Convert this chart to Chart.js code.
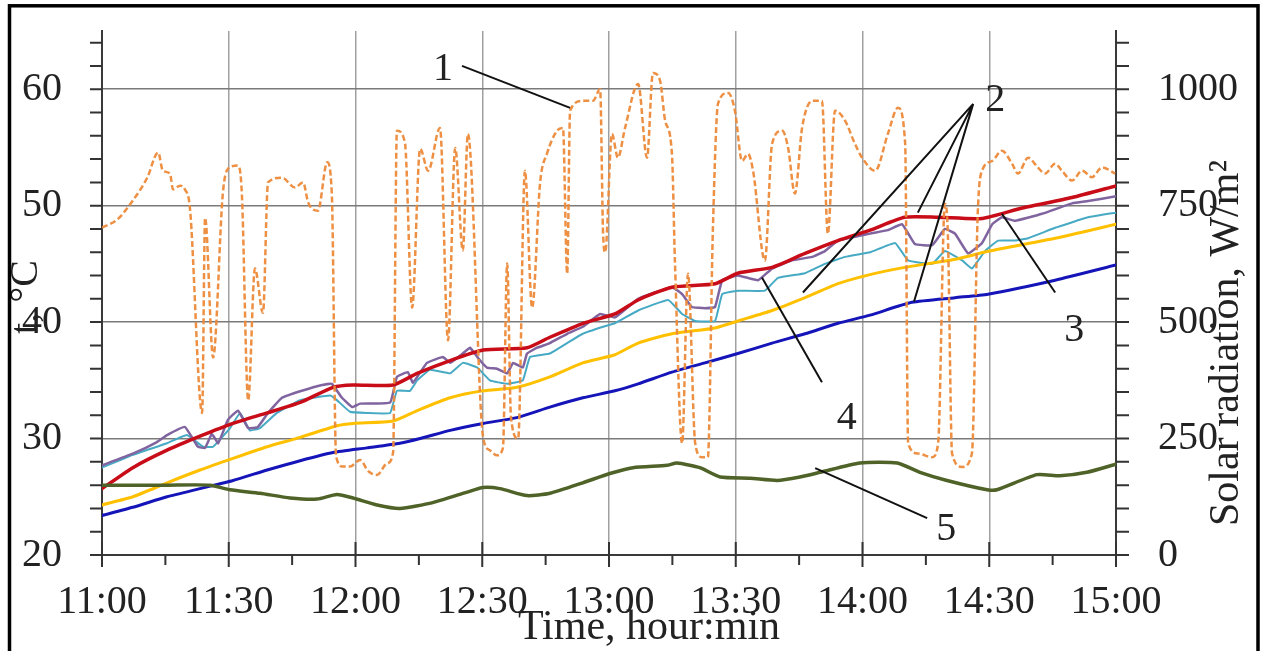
<!DOCTYPE html>
<html>
<head>
<meta charset="utf-8">
<script src="https://cdn.jsdelivr.net/npm/chart.js@4/dist/chart.umd.min.js"></script>
<style>
  html, body { margin: 0; padding: 0; background: #fff; }
  canvas { display: block; }
</style>
</head>
<body>
<canvas id="grafico" width="1262" height="651"></canvas>
<script>
// minutes after 11:00 for the time axis
var timeTicks = [0, 30, 60, 90, 120, 150, 180, 210, 240];
var tempTicks = [20, 30, 40, 50, 60];
var solarTicks = [0, 250, 500, 750, 1000];

// 1 - solar radiation, W/m2 (right axis)
var solarMin = [0, 3.6, 7.3, 10.7, 13.3, 14.4, 16.1, 16.8, 18.5, 19.6, 20.8, 23.7, 24.4, 26.3, 28.6, 29.8, 32.2, 33.1, 34.6,
  36.2, 38.1, 39.3, 42.6, 45.7, 47.6, 48.8, 51.1, 53.3, 54.4, 55.4, 57.0, 58.7, 61.1, 63.0, 65.1, 67.5, 68.9,
  69.8, 71.7, 73.4, 75.3, 77.2, 80.0, 81.9, 83.6, 85.4, 86.6, 90.2, 91.8, 93.5, 94.9, 95.9, 96.8, 98.5, 100.1,
  101.8, 103.7, 105.3, 107.7, 109.1, 110.1, 110.8, 113.8, 116.2, 117.9, 118.6, 119.1, 120.7, 122.1, 123.8,
  126.9, 129.0, 130.4, 132.1, 133.3, 134.9, 135.6, 137.3, 138.7, 140.4, 142.0, 143.4, 144.6, 145.8, 148.2,
  149.8, 151.5, 152.9, 154.1, 156.9, 158.6, 161.0, 162.4, 164.0, 165.7, 168.1, 170.4, 171.8, 173.5, 175.9,
  178.2, 179.9, 183.0, 186.0, 188.4, 190.1, 190.8, 193.1, 196.5, 197.9, 199.5, 200.2, 201.2, 203.6, 205.9,
  207.3, 208.3, 210.7, 213.0, 215.4, 216.8, 219.2, 221.5, 223.2, 225.6, 227.2, 229.6, 232.0, 234.3, 236.7, 239.8];
var solarWm2 = [703, 720, 761, 810, 864, 825, 819, 785, 793, 785, 746, 305, 724, 424, 776, 829, 836, 776, 332,
  615, 520, 800, 810, 789, 800, 757, 739, 843, 775, 212, 190, 190, 204, 180, 172, 197, 220,
  911, 885, 531, 872, 825, 917, 461, 874, 654, 904, 253, 225, 214, 230, 626, 296, 250, 825,
  531, 800, 861, 911, 917, 604, 954, 975, 975, 1000, 690, 650, 904, 853, 917,
  1011, 853, 1035, 1018, 932, 861, 632, 240, 604, 240, 210, 210, 703, 969, 992,
  954, 846, 861, 825, 632, 883, 911, 874, 776, 917, 975, 975, 690, 954, 932,
  883, 853, 825, 904, 960, 883, 240, 218, 210, 240, 754, 690, 218, 189, 218,
  739, 825, 846, 868, 840, 819, 853, 832, 819, 840, 825, 804, 825, 811, 832, 819];

// 2 - red, yellow, blue
var redMin = [0, 7.3, 15.4, 23.2, 31.0, 39.1, 46.9, 54.7, 59.4, 68.9, 74.6, 82.4, 90.2, 100.6, 106, 113.9, 121.4,
  126.9, 134.9, 145.1, 150.5, 158.6, 166.4, 174.2, 181.8, 190, 197.9, 208.3, 217.8, 229.6, 240];
var redTemp = [25.7, 27.5, 29.0, 30.2, 31.3, 32.2, 33.1, 34.4, 34.6, 34.6, 35.6, 36.7, 37.6, 37.8, 38.7, 39.9, 40.7,
  41.9, 43.0, 43.3, 44.2, 44.7, 45.9, 47.0, 47.9, 49.0, 49.0, 48.9, 49.8, 50.7, 51.7];

var yellowMin = [0, 7.3, 15.4, 23.2, 31.0, 39.1, 46.9, 55.6, 59.4, 68.9, 74.6, 82.4, 90.2, 98.2, 106, 113.8, 121.4,
  126.9, 134.9, 145.1, 150.5, 158.6, 166.4, 174.2, 182, 190, 202, 210, 225.6, 240];
var yellowTemp = [24.3, 25.0, 26.2, 27.3, 28.3, 29.3, 30.1, 31.1, 31.3, 31.5, 32.4, 33.5, 34.1, 34.4, 35.3, 36.5, 37.2,
  38.2, 39.0, 39.5, 40.1, 41.0, 42.1, 43.3, 44.1, 44.7, 45.4, 46.1, 47.2, 48.4];

var blueMin = [0, 7.3, 15.4, 23.2, 31.0, 39.1, 46.9, 54.7, 62.7, 70.5, 75.3, 82.4, 90.2, 98.2, 106, 113.8, 121.4,
  126.9, 134.9, 142.7, 150.5, 158.6, 166.4, 174.2, 181.8, 191.7, 201.9, 209.7, 225.6, 240];
var blueTemp = [23.4, 24.1, 25.0, 25.7, 26.4, 27.3, 28.1, 28.8, 29.2, 29.6, 30.0, 30.7, 31.3, 31.8, 32.7, 33.5, 34.1,
  34.7, 35.7, 36.5, 37.3, 38.2, 39.0, 39.9, 40.6, 41.7, 42.1, 42.4, 43.6, 44.9];

// 3 - purple
var purpleMin = [0, 7.3, 13.0, 15.4, 19.6, 22.7, 24.4, 26.0, 27.5, 29.8, 32.2, 34.6, 36.9, 39.3, 42.6, 47.3, 52.1,
  54.4, 56.8, 59.2, 61.1, 68.2, 69.8, 72.4, 73.6, 76.9, 80.7, 82.4, 85.4, 87.1, 89.5, 91.1, 93.5, 95.9, 97.3,
  99.6, 100.6, 103.0, 106.0, 110.1, 113.8, 117.9, 121.4, 126.9, 134.9, 137.3, 139.6, 142.7, 145.1, 146.8,
  150.5, 155.3, 158.6, 163.3, 168.1, 171.1, 174.2, 181.8, 186.0, 189.4, 192.4, 196.5, 199.5, 201.9, 205.0,
  208.3, 210.7, 213.0, 216.1, 222.5, 229.6, 233.4, 240];
var purpleTemp = [27.7, 28.7, 29.7, 30.3, 31.0, 29.3, 29.2, 30.4, 29.6, 31.6, 32.4, 30.9, 31.0, 32.2, 33.5, 34.1, 34.6,
  34.7, 33.5, 32.7, 33.0, 33.1, 35.3, 35.7, 34.8, 36.5, 37.0, 36.5, 37.3, 37.8, 36.7, 36.1, 36.0, 35.6, 36.5,
  36.1, 37.3, 37.8, 38.2, 39.0, 39.6, 40.7, 40.4, 42.0, 43.0, 42.4, 41.3, 41.2, 41.3, 43.6,
  44.0, 43.6, 44.6, 45.3, 45.6, 46.1, 47.0, 47.6, 47.9, 48.4, 46.7, 46.6, 48.0, 47.6, 45.9,
  46.8, 48.4, 49.0, 48.7, 49.3, 50.2, 50.4, 50.8];

// 4 - teal
var tealMin = [0, 7.3, 15.4, 20.1, 23.9, 26.3, 30.3, 32.7, 35.0, 37.4, 41.4, 46.9, 54.0, 55.6, 58.7, 62.7, 68.2,
  69.8, 72.9, 74.6, 77.6, 82.4, 85.4, 88.8, 91.8, 95.9, 99.6, 101.3, 106.0, 110.1, 113.8, 118.6, 121.4, 126.9,
  134.0, 137.3, 140.4, 145.1, 146.8, 150.5, 156.9, 160.0, 166.4, 171.1, 175.9, 181.8, 187.7, 190.8, 196.5,
  199.5, 203.6, 205.9, 209.0, 212.1, 216.1, 219.2, 225.6, 233.4, 240];
var tealTemp = [27.5, 28.6, 29.6, 30.3, 29.3, 29.3, 30.9, 32.2, 30.7, 30.9, 32.2, 33.3, 33.7, 33.3, 32.3, 32.2, 32.2,
  34.1, 34.1, 35.0, 35.9, 35.6, 36.5, 36.1, 35.0, 34.7, 35.0, 37.0, 37.3, 38.2, 39.0, 39.6, 39.9, 41.0,
  41.9, 40.7, 40.1, 40.1, 42.4, 42.7, 42.7, 43.8, 44.2, 45.0, 45.6, 46.0, 46.8, 45.3, 45.0,
  46.1, 45.3, 44.6, 46.1, 47.0, 47.0, 47.2, 48.1, 49.0, 49.4];

// 5 - ambient
var greenMin = [0, 7.3, 15.4, 25.6, 30.3, 37.4, 44.5, 50.9, 55.6, 59.4, 65.1, 70.5, 78.3, 86.4, 90.2, 94.2, 100.6,
  106, 113.8, 120.2, 125.7, 133.7, 136.1, 141.5, 146.3, 153.4, 159.8, 165.2, 170, 179.4, 188.2, 193.6, 200,
  209.5, 211.8, 221.3, 226.7, 233.1, 240];
var greenTemp = [26.0, 26.0, 26.0, 26.0, 25.6, 25.3, 24.9, 24.8, 25.2, 24.9, 24.3, 24.0, 24.5, 25.4, 25.8, 25.7, 25.1,
  25.3, 26.2, 27.0, 27.5, 27.7, 27.9, 27.5, 26.7, 26.6, 26.4, 26.7, 27.1, 27.9, 27.9, 27.1, 26.4,
  25.6, 25.6, 26.9, 26.8, 27.1, 27.8];

// numbered callouts: label position and leader lines, in (minutes, °C)
var callouts = [
  { label: '1', at: [80.7, 61.66], lines: [[85.2, 62.0, 110.8, 58.4]] },
  { label: '2', at: [211.4, 59.0], lines: [[206.2, 58.74, 165.9, 42.54], [206.2, 58.74, 193.1, 49.4], [206.2, 58.74, 192.2, 41.77]] },
  { label: '3', at: [230.1, 39.29], lines: [[213.0, 49.31, 225.6, 42.54]] },
  { label: '4', at: [176.3, 31.74], lines: [[156.2, 43.83, 170.4, 34.83]] },
  { label: '5', at: [199.8, 22.23], lines: [[168.8, 27.46, 195.3, 23.17]] }
];

var SERIF = "'Liberation Serif', 'Times New Roman', serif";
var TEXTO = '#222';

function puntos(xs, ys) {
  return xs.map(function(x, i){ return { x: x, y: ys[i] }; });
}

function hora(m) {
  var h = 11 + Math.floor(m / 60);
  var mm = m % 60;
  return h + ':' + (mm < 10 ? '0' + mm : mm);
}

function serie(xs, ys, color, ancho, eje, extra) {
  var d = {
    data: puntos(xs, ys),
    borderColor: color,
    borderWidth: ancho,
    yAxisID: eje,
    pointRadius: 0,
    fill: false,
    tension: 0.2,
    borderJoinStyle: 'round',
    borderCapStyle: 'round'
  };
  for (var k in extra) d[k] = extra[k];
  return d;
}

// the axes keep no extra room for their end labels
function sinRelleno(s) {
  s.paddingTop = 0;
  s.paddingBottom = 0;
}

// tick marks, axis titles, callouts and the outer frame
var adornos = {
  id: 'adornos',
  afterDraw: function(chart) {
    var ctx = chart.ctx;
    var a = chart.chartArea;
    var sx = chart.scales.x, sy = chart.scales.y, sy2 = chart.scales.y2;

    ctx.save();
    ctx.strokeStyle = '#333';
    ctx.lineWidth = 2;
    ctx.beginPath();
    for (var m = 0; m <= 240; m += 15) {
      var px = sx.getPixelForValue(m);
      if (m % 30 === 0) { ctx.moveTo(px, a.bottom - 13); ctx.lineTo(px, a.bottom + 12); }
      else { ctx.moveTo(px, a.bottom); ctx.lineTo(px, a.bottom + 10); }
    }
    for (var t = 20; t <= 64; t += 2) {
      var py = sy.getPixelForValue(t);
      ctx.moveTo(a.left - 12, py); ctx.lineTo(a.left, py);
    }
    for (var r = 0; r <= 1100; r += 50) {
      var py2 = sy2.getPixelForValue(r);
      ctx.moveTo(a.right, py2); ctx.lineTo(a.right + 13, py2);
    }
    ctx.stroke();

    // axis titles
    ctx.fillStyle = TEXTO;
    ctx.font = '42px ' + SERIF;
    ctx.textAlign = 'center';
    ctx.textBaseline = 'alphabetic';
    ctx.fillText('Time, hour:min', 649, 639);

    ctx.save();
    ctx.translate(1238, 343);
    ctx.rotate(-Math.PI / 2);
    ctx.fillText('Solar radiation, W/m\u00B2', 0, 0);
    ctx.restore();

    ctx.save();
    ctx.translate(37, 297);
    ctx.rotate(-Math.PI / 2);
    ctx.font = '40px ' + SERIF;
    ctx.fillText('t, \u00B0C', 0, 0);
    ctx.restore();

    // callouts
    ctx.strokeStyle = '#111';
    ctx.lineWidth = 2;
    ctx.font = '40px ' + SERIF;
    ctx.textBaseline = 'middle';
    callouts.forEach(function(c){
      ctx.beginPath();
      c.lines.forEach(function(l){
        ctx.moveTo(sx.getPixelForValue(l[0]), sy.getPixelForValue(l[1]));
        ctx.lineTo(sx.getPixelForValue(l[2]), sy.getPixelForValue(l[3]));
      });
      ctx.stroke();
      ctx.fillText(c.label, sx.getPixelForValue(c.at[0]), sy.getPixelForValue(c.at[1]));
    });

    // frame
    ctx.strokeStyle = '#000';
    ctx.lineWidth = 3.5;
    ctx.strokeRect(9.5, 5.8, 1248.5, 700);
    ctx.restore();
  }
};

var ctx = document.getElementById('grafico').getContext('2d');

var config = {
  type: 'line',
  data: {
    datasets: [
      serie(solarMin, solarWm2, 'rgba(236,138,58,0.95)', 2.5, 'y2', { borderDash: [6, 3], cubicInterpolationMode: 'monotone', borderCapStyle: 'butt' }),
      serie(greenMin, greenTemp, 'rgb(79,98,40)', 3.5, 'y', {}),
      serie(blueMin, blueTemp, 'rgb(20,20,185)', 3, 'y', {}),
      serie(yellowMin, yellowTemp, 'rgb(255,192,0)', 3, 'y', {}),
      serie(redMin, redTemp, 'rgb(200,12,24)', 3.5, 'y', {}),
      serie(purpleMin, purpleTemp, 'rgb(128,100,160)', 2.5, 'y', { tension: 0.1 }),
      serie(tealMin, tealTemp, 'rgb(70,170,196)', 2, 'y', { tension: 0.1 })
    ]
  },
  options: {
    responsive: false,
    animation: false,
    devicePixelRatio: 1,
    layout: { padding: { top: 31, left: 0, right: 0, bottom: 0 } },
    plugins: { legend: { display: false }, tooltip: { enabled: false } },
    scales: {
      x: {
        type: 'linear',
        min: 0,
        max: 240,
        afterBuildTicks: function(s){ s.ticks = timeTicks.map(function(v){ return { value: v }; }); },
        afterFit: function(s){ s.height = 96; s.paddingLeft = 0; s.paddingRight = 0; },
        grid: { color: '#a0a0a0', lineWidth: 1.5, drawTicks: false },
        border: { color: '#3a3a3a', width: 2 },
        ticks: {
          padding: 23,
          maxRotation: 0,
          autoSkip: false,
          color: TEXTO,
          font: { family: SERIF, size: 40 },
          callback: function(v){ return hora(v); }
        }
      },
      y: {
        position: 'left',
        min: 20,
        max: 65,
        afterBuildTicks: function(s){ s.ticks = tempTicks.map(function(v){ return { value: v }; }); },
        afterFit: function(s){ s.width = 102; sinRelleno(s); },
        grid: { color: '#7a7a7a', lineWidth: 1.5, drawTicks: false },
        border: { color: '#3a3a3a', width: 2 },
        ticks: { padding: 40, color: TEXTO, font: { family: SERIF, size: 40 }, callback: function(v){ return String(v); } }
      },
      y2: {
        position: 'right',
        min: 0,
        max: 1125,
        afterBuildTicks: function(s){ s.ticks = solarTicks.map(function(v){ return { value: v }; }); },
        afterFit: function(s){ s.width = 146; sinRelleno(s); },
        grid: { display: false, drawTicks: false },
        border: { color: '#3a3a3a', width: 2 },
        ticks: { padding: 42, color: TEXTO, font: { family: SERIF, size: 40 }, callback: function(v){ return String(v); } }
      }
    }
  },
  plugins: [adornos]
};

window.myChart = new Chart(ctx, config);
</script>
</body>
</html>
